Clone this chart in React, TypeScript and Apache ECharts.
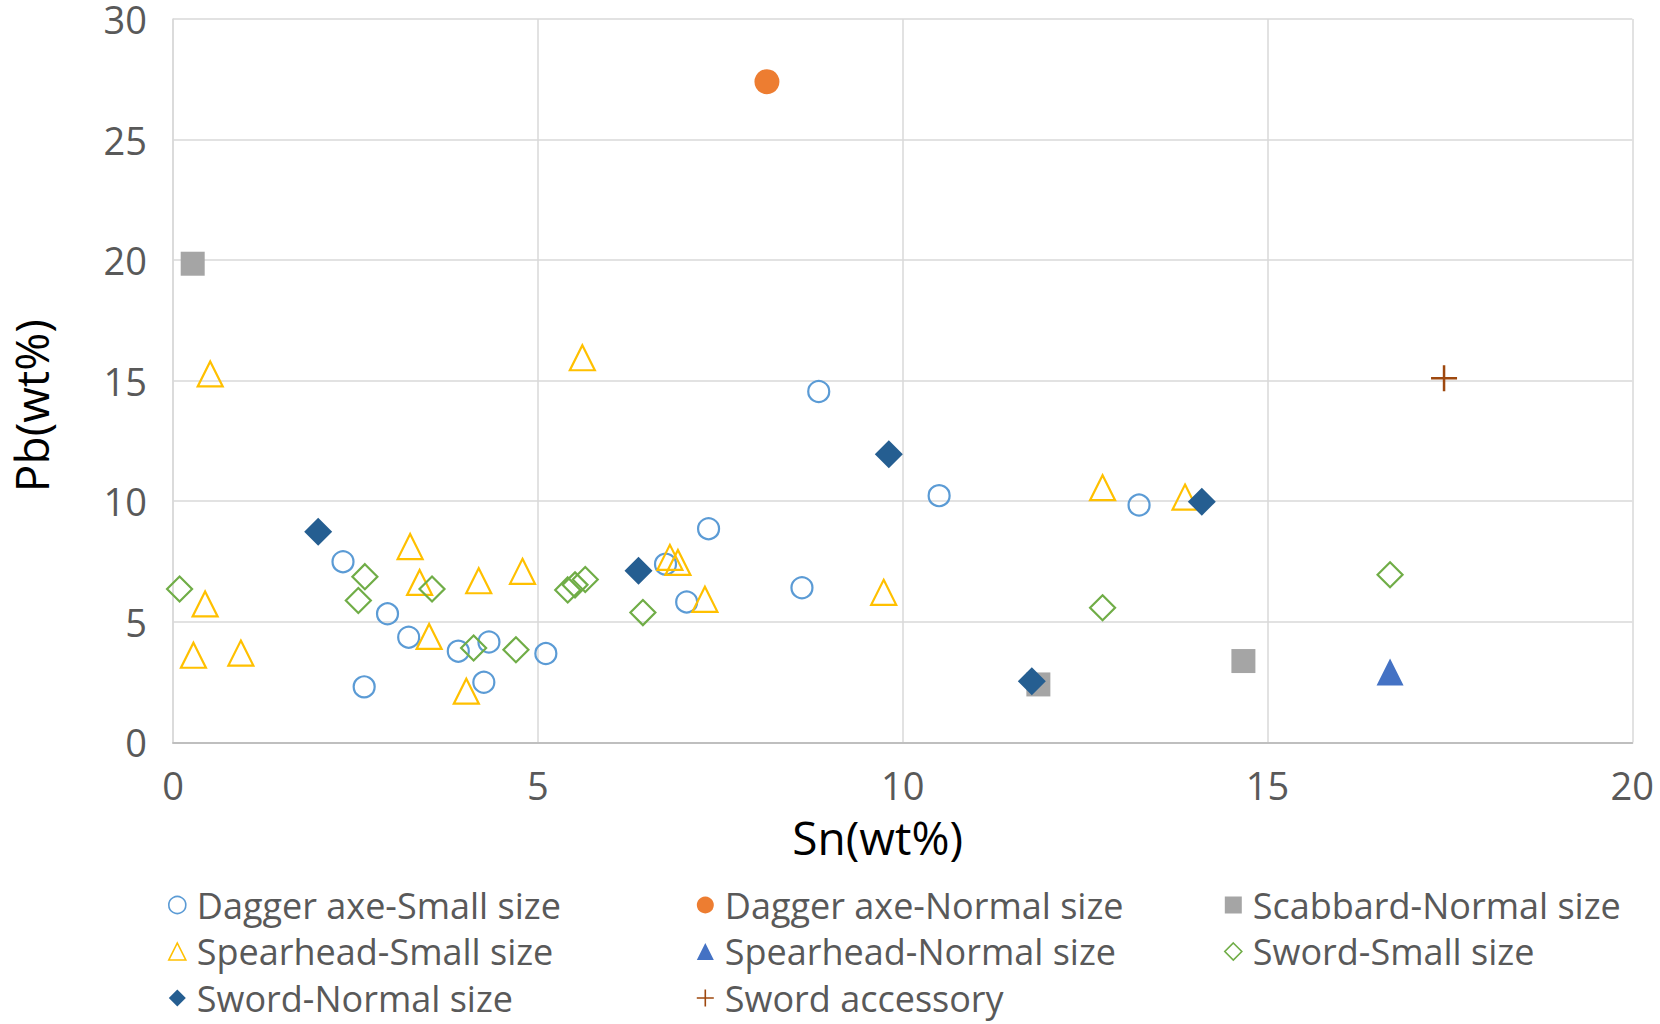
import React, { useEffect, useRef } from "react";
import * as echarts from "echarts";

const xTicks = [0, 5, 10, 15, 20];
const yTicks = [0, 5, 10, 15, 20, 25, 30];

const daggerSmall = [[2.33, 7.49], [2.62, 2.3], [2.94, 5.33], [3.23, 4.36], [3.91, 3.78], [4.33, 4.16], [4.26, 2.49], [5.11, 3.68], [6.75, 7.39], [7.04, 5.82], [7.34, 8.86], [8.62, 6.41], [8.85, 14.55], [10.5, 10.23], [13.24, 9.84]];
const daggerNormal = [[8.14, 27.4]];
const scabbardNormal = [[0.27, 19.85], [11.86, 2.4], [14.67, 3.37]];
const spearSmall = [[0.51, 15.28], [0.44, 5.74], [0.28, 3.61], [0.93, 3.7], [3.25, 8.12], [3.38, 6.63], [3.51, 4.39], [4.02, 2.12], [4.19, 6.7], [4.79, 7.09], [5.61, 15.95], [6.81, 7.67], [6.92, 7.46], [7.29, 5.93], [9.74, 6.22], [12.74, 10.56], [13.87, 10.17]];
const spearNormal = [[16.68, 2.92]];
const swordSmall = [[0.09, 6.36], [2.63, 6.87], [2.54, 5.88], [3.55, 6.36], [4.12, 3.91], [4.7, 3.84], [5.41, 6.32], [5.51, 6.53], [5.65, 6.75], [6.44, 5.38], [12.74, 5.58], [16.68, 6.95]];
const swordNormal = [[1.99, 8.73], [6.38, 7.12], [9.81, 11.95], [14.1, 9.98], [11.77, 2.53]];
const swordAccessory = [[17.42, 15.1]];

const names = [
  "Dagger axe-Small size",
  "Dagger axe-Normal size",
  "Scabbard-Normal size",
  "Spearhead-Small size",
  "Spearhead-Normal size",
  "Sword-Small size",
  "Sword-Normal size",
  "Sword accessory",
];

const CROSS = "path://M0,5L10,5M5,0L5,10";
const FONT = "Open Sans";

export default function App() {
  const ref = useRef<HTMLDivElement>(null);
  useEffect(() => {
    if (!ref.current) return;
    const chart = echarts.init(ref.current, null, { renderer: "svg" });
    const outline = (c: string) => ({ color: "rgba(255,255,255,0)", borderColor: c, borderWidth: 2.2, opacity: 1 });
    const filled = (c: string) => ({ color: c, borderWidth: 0, opacity: 1 });
    const seriesDefs = [
      { name: names[0], data: daggerSmall, symbol: "circle", symbolSize: 21, itemStyle: outline("#5B9BD5") },
      { name: names[1], data: daggerNormal, symbol: "circle", symbolSize: 25, itemStyle: filled("#ED7D31") },
      { name: names[2], data: scabbardNormal, symbol: "rect", symbolSize: 24, itemStyle: filled("#A5A5A5") },
      { name: names[3], data: spearSmall, symbol: "triangle", symbolSize: 25, itemStyle: outline("#FFC000") },
      { name: names[4], data: spearNormal, symbol: "triangle", symbolSize: 27, itemStyle: filled("#4472C4") },
      { name: names[5], data: swordSmall, symbol: "diamond", symbolSize: 25, itemStyle: outline("#70AD47") },
      { name: names[6], data: swordNormal, symbol: "diamond", symbolSize: 28, itemStyle: filled("#255E91") },
      { name: names[7], data: swordAccessory, symbol: CROSS, symbolSize: 26, itemStyle: { color: "rgba(0,0,0,0)", borderColor: "#9E480E", borderWidth: 2.5, opacity: 1 } },
    ];
    const series = seriesDefs.map((s) => ({ type: "scatter", ...s }));
    const legendIcon = (i: number) => {
      const s = seriesDefs[i];
      const st: any = { ...s.itemStyle };
      if (st.borderWidth) st.borderWidth = 1.6;
      return { name: s.name, icon: s.symbol, itemStyle: st };
    };
    const legendCommon = {
      orient: "vertical",
      top: 887,
      padding: 0,
      itemWidth: 17,
      itemHeight: 17,
      itemGap: 10.5,
      selectedMode: false,
      textStyle: { fontFamily: FONT, fontSize: 36, color: "#595959", padding: [0, 0, 0, 6] },
    };
    const option: any = {
      animation: false,
      backgroundColor: "#ffffff",
      grid: { left: 160.5, right: 27.7, top: 16, bottom: 281.7, containLabel: false },
      xAxis: {
        type: "value",
        min: xTicks[0],
        max: xTicks[xTicks.length - 1],
        interval: 5,
        name: "Sn(wt%)",
        nameLocation: "middle",
        nameGap: 72,
        nameTextStyle: { fontFamily: FONT, fontSize: 46, color: "#000000", padding: [0, 50, 0, 0] },
        axisLine: { show: true, lineStyle: { color: "#BFBFBF", width: 2 } },
        axisTick: { show: false },
        axisLabel: { fontFamily: FONT, fontSize: 38, color: "#595959", margin: 24 },
        splitLine: { show: true, lineStyle: { color: "#D9D9D9", width: 1.5 } },
      },
      yAxis: {
        type: "value",
        min: yTicks[0],
        max: yTicks[yTicks.length - 1],
        interval: 5,
        name: "Pb(wt%)",
        nameLocation: "middle",
        nameGap: 119,
        nameTextStyle: { fontFamily: FONT, fontSize: 46, color: "#000000", padding: [0, 50, 0, 0] },
        axisLine: { show: true, lineStyle: { color: "#D9D9D9", width: 1.5 } },
        axisTick: { show: false },
        axisLabel: { fontFamily: FONT, fontSize: 38, color: "#595959", margin: 26 },
        splitLine: { show: true, lineStyle: { color: "#D9D9D9", width: 1.5 } },
      },
      legend: [
        { ...legendCommon, left: 168, data: [legendIcon(0), legendIcon(3), legendIcon(6)] },
        { ...legendCommon, left: 696, data: [legendIcon(1), legendIcon(4), legendIcon(7)] },
        { ...legendCommon, left: 1224, data: [legendIcon(2), legendIcon(5)] },
      ],
      series,
    };
    chart.setOption(option);
    return () => chart.dispose();
  }, []);
  return <div ref={ref} style={{ position: "fixed", left: 0, top: 0, width: 1660, height: 1024 }} />;
}
